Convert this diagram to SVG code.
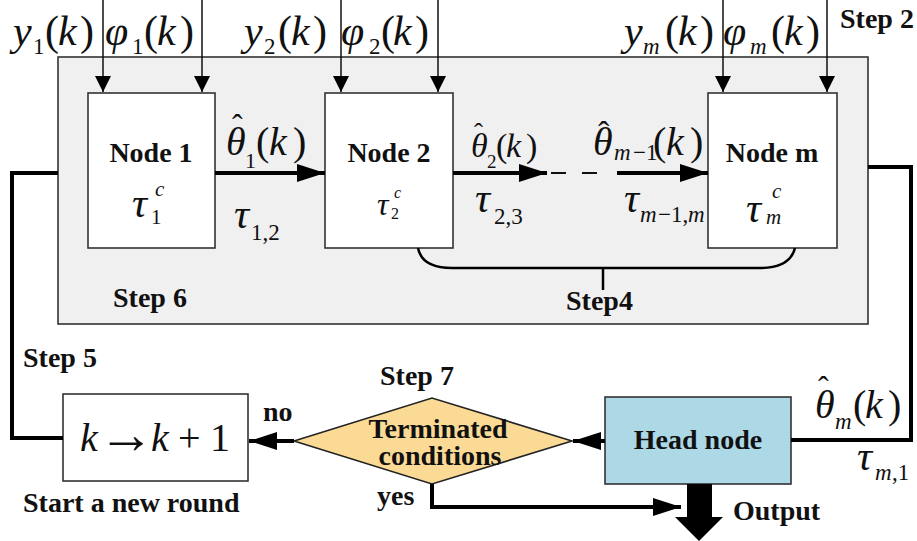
<svg xmlns="http://www.w3.org/2000/svg" width="917" height="541" viewBox="0 0 917 541">
<style>
text{font-family:"Liberation Serif","Times New Roman",serif}
.b{font-weight:bold;font-size:28px;fill:#111}
.m{font-style:italic;fill:#111}
.u{font-style:normal}
.hat{fill:#111}
.box{stroke:#333;stroke-width:1.6}
.thin{stroke:#111;stroke-width:1.5;fill:none}
.thick{stroke:#000;stroke-width:4;fill:none}
</style>
<defs>
<marker id="ah" markerUnits="userSpaceOnUse" markerWidth="16" markerHeight="16" refX="14" refY="7" orient="auto" viewBox="0 0 14 14">
<path d="M0,0 L14,7 L0,14 z" fill="#000"/>
</marker>
<marker id="AH" markerUnits="userSpaceOnUse" markerWidth="30" markerHeight="18" refX="28" refY="9" orient="auto" viewBox="0 0 28 18">
<path d="M0,0 L28,9 L0,18 z" fill="#000"/>
</marker>
</defs>

<g id="stage">
<rect x="58" y="57" width="810" height="267" fill="#f0f0f0" class="box"/>
</g>

<g id="node1">
<rect x="88" y="93" width="127" height="155" fill="#fff" class="box"/>
<text class="b" x="151" y="162" text-anchor="middle">Node 1</text>
<text class="m" font-size="42"><tspan x="132" y="217">τ</tspan><tspan font-size="21" x="155" y="196">c</tspan><tspan class="u" font-size="21" x="151" y="224">1</tspan></text>
</g>

<g id="node2">
<rect x="325" y="93" width="128" height="155" fill="#fff" class="box"/>
<text class="b" x="389" y="162" text-anchor="middle">Node 2</text>
<text class="m" font-size="32"><tspan x="377" y="215">τ</tspan><tspan font-size="16" x="394" y="198">c</tspan><tspan class="u" font-size="16" x="391" y="219">2</tspan></text>
</g>

<g id="nodem">
<rect x="708" y="93" width="129" height="155" fill="#fff" class="box"/>
<text class="b" x="772" y="162" text-anchor="middle">Node m</text>
<text class="m" font-size="42"><tspan x="746" y="222">τ</tspan><tspan font-size="21" x="772" y="198">c</tspan><tspan font-size="21" x="766" y="224">m</tspan></text>
</g>

<g id="round">
<rect x="63" y="394" width="185" height="87" fill="#fff" class="box"/>
<text class="m" font-size="40" y="451"><tspan x="80">k</tspan><tspan class="u" font-size="56" x="98" y="453">→</tspan><tspan x="151" y="451">k</tspan><tspan class="u" x="178">+</tspan><tspan class="u" x="210">1</tspan></text>
</g>

<g id="decision">
<polygon points="294,441 432,398 572,441 432,484" fill="#fbda96" stroke="#222" stroke-width="1.6"/>
<text class="b" x="438" y="438" text-anchor="middle">Terminated</text>
<text class="b" x="440" y="465" text-anchor="middle">conditions</text>
</g>

<g id="head">
<rect x="605" y="397" width="186" height="87" fill="#add8e6" class="box"/>
<text class="b" x="698" y="449" text-anchor="middle">Head node</text>
</g>

<g id="connectors">
<line x1="103" y1="0" x2="103" y2="92" class="thin" marker-end="url(#ah)"/>
<line x1="202" y1="0" x2="202" y2="92" class="thin" marker-end="url(#ah)"/>
<line x1="341" y1="0" x2="341" y2="92" class="thin" marker-end="url(#ah)"/>
<line x1="438" y1="0" x2="438" y2="92" class="thin" marker-end="url(#ah)"/>
<line x1="723" y1="0" x2="723" y2="92" class="thin" marker-end="url(#ah)"/>
<line x1="827" y1="0" x2="827" y2="92" class="thin" marker-end="url(#ah)"/>
<line x1="215" y1="173" x2="325" y2="173" class="thick" marker-end="url(#AH)"/>
<line x1="453" y1="173" x2="547" y2="173" class="thick" marker-end="url(#AH)"/>
<line x1="551" y1="173" x2="610" y2="173" stroke="#111" stroke-width="1.8" stroke-dasharray="15,16"/>
<line x1="617" y1="173" x2="708" y2="173" class="thick" marker-end="url(#AH)"/>
<path d="M418,248 Q422,268 452,268 L760,268 Q790,268 795,248" stroke="#000" stroke-width="2.5" fill="none"/>
<line x1="603" y1="268" x2="603" y2="290" stroke="#000" stroke-width="2.5"/>
<polyline points="58,173 12,173 12,438 63,438" class="thick"/>
<polyline points="868,167 911,167 911,440 791,440" class="thick"/>
<line x1="294" y1="441" x2="249" y2="441" class="thick" marker-end="url(#AH)"/>
<line x1="605" y1="441" x2="573" y2="441" class="thick" marker-end="url(#AH)"/>
<polyline points="432,484 432,507 681,507" class="thick" marker-end="url(#AH)"/>
<polygon points="687,484 712,484 712,517 723,517 699,541 675,517 687,517" fill="#000"/>
</g>

<g id="labels">
<text class="m" font-size="42" y="45"><tspan x="13">y</tspan><tspan class="u" font-size="23" x="33" y="54">1</tspan><tspan class="u" x="45" y="45">(</tspan><tspan x="58">k</tspan><tspan class="u" x="80">)</tspan></text>
<text class="m" font-size="42" y="45"><tspan x="105">φ</tspan><tspan class="u" font-size="23" x="132" y="54">1</tspan><tspan class="u" x="144" y="45">(</tspan><tspan x="157">k</tspan><tspan class="u" x="180">)</tspan></text>
<text class="m" font-size="42" y="45"><tspan x="244">y</tspan><tspan class="u" font-size="23" x="264" y="54">2</tspan><tspan class="u" x="278" y="45">(</tspan><tspan x="291">k</tspan><tspan class="u" x="313">)</tspan></text>
<text class="m" font-size="42" y="45"><tspan x="341">φ</tspan><tspan class="u" font-size="23" x="369" y="54">2</tspan><tspan class="u" x="381" y="45">(</tspan><tspan x="393">k</tspan><tspan class="u" x="415">)</tspan></text>
<text class="m" font-size="42" y="45"><tspan x="624">y</tspan><tspan font-size="23" x="643" y="54">m</tspan><tspan class="u" x="665" y="45">(</tspan><tspan x="678">k</tspan><tspan class="u" x="700">)</tspan></text>
<text class="m" font-size="42" y="45"><tspan x="723">φ</tspan><tspan font-size="23" x="750" y="54">m</tspan><tspan class="u" x="771" y="45">(</tspan><tspan x="784">k</tspan><tspan class="u" x="806">)</tspan></text>

<text class="hat" font-size="32" x="232" y="136">ˆ</text>
<text class="m" font-size="40" y="155"><tspan x="226">θ</tspan><tspan class="u" font-size="22" x="245" y="168">1</tspan><tspan class="u" x="256" y="155">(</tspan><tspan x="269">k</tspan><tspan class="u" x="293">)</tspan></text>

<text class="hat" font-size="27" x="474" y="142">ˆ</text>
<text class="m" font-size="34" y="157"><tspan x="471">θ</tspan><tspan class="u" font-size="19" x="487" y="168">2</tspan><tspan class="u" x="496" y="157">(</tspan><tspan x="506">k</tspan><tspan class="u" x="526">)</tspan></text>

<text class="hat" font-size="34" x="598" y="145">ˆ</text>
<text class="m" font-size="40" y="155"><tspan x="593">θ</tspan><tspan font-size="23" x="614" y="160">m</tspan><tspan class="u" font-size="23" x="633">−1</tspan><tspan class="u" x="653" y="155">(</tspan><tspan x="666">k</tspan><tspan class="u" x="690">)</tspan></text>

<text class="hat" font-size="32" x="818" y="398">ˆ</text>
<text class="m" font-size="40" y="418"><tspan x="815">θ</tspan><tspan font-size="23" x="835" y="429">m</tspan><tspan class="u" x="853" y="418">(</tspan><tspan x="865">k</tspan><tspan class="u" x="888">)</tspan></text>

<text class="m" font-size="42" y="228"><tspan x="234">τ</tspan><tspan class="u" font-size="23" x="251" y="240">1,2</tspan></text>
<text class="m" font-size="42" y="212"><tspan x="475">τ</tspan><tspan class="u" font-size="23" x="494" y="224">2,3</tspan></text>
<text class="m" font-size="42" y="212"><tspan x="624">τ</tspan><tspan font-size="23" x="640" y="222">m</tspan><tspan class="u" font-size="23" x="658">−1,</tspan><tspan font-size="23" x="688">m</tspan></text>
<text class="m" font-size="42" y="470"><tspan x="857">τ</tspan><tspan font-size="23" x="875" y="480">m</tspan><tspan class="u" font-size="23" x="892">,1</tspan></text>

<text class="b" x="840" y="28">Step 2</text>
<text class="b" x="113" y="307">Step 6</text>
<text class="b" x="566" y="310">Step4</text>
<text class="b" x="23" y="367">Step 5</text>
<text class="b" x="380" y="385">Step 7</text>
<text class="b" x="263" y="421">no</text>
<text class="b" x="377" y="505">yes</text>
<text class="b" x="23" y="512">Start a new round</text>
<text class="b" x="733" y="520">Output</text>
</g>
</svg>
